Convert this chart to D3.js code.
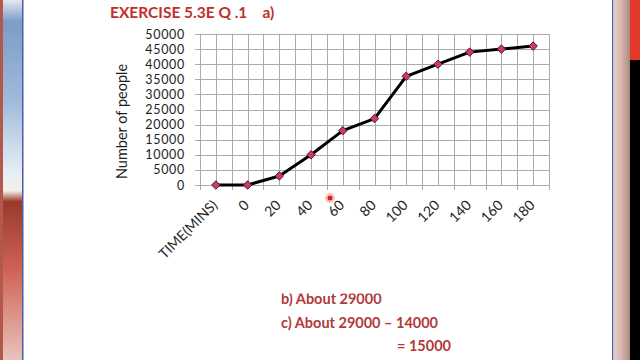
<!DOCTYPE html>
<html>
<head>
<meta charset="utf-8">
<script src="https://cdn.jsdelivr.net/npm/d3@7"></script>
<style>
  html, body { margin: 0; padding: 0; background: #fff; }
  svg { display: block; font-family: Lato, "Open Sans", sans-serif; }
</style>
</head>
<body>
<svg id="chart" width="640" height="360"></svg>
<script>
// chart data
const categories = ['TIME(MINS)', '0', '20', '40', '60', '80', '100', '120', '140', '160', '180'];
const people = [0, 0, 3000, 10000, 18000, 22000, 36000, 40000, 44000, 45000, 46000];
const yTicks = [0, 5000, 10000, 15000, 20000, 25000, 30000, 35000, 40000, 45000, 50000];
const title = 'EXERCISE 5.3E Q .1    a)';
const notes = ['b) About 29000', 'c) About 29000 \u2013 14000', '= 15000'];

(function() {
  'use strict';

  const svg = d3.select('#chart'),
        plot = { left: 200, right: 549, top: 34, bottom: 185 },
        gridColor = '#aaaaaa',
        textColor = '#1e1e1e';

  const x = d3.scaleBand()
    .domain(categories)
    .range([plot.left, plot.right])
    .padding(0);

  const y = d3.scaleLinear()
    .domain([0, 50000])
    .range([plot.bottom, plot.top]);

  const bw = x.bandwidth();

  // slide frame on the sides
  const defs = svg.append('defs');
  const lg = defs.append('linearGradient').attr('id', 'leftStrip')
    .attr('x1', 0).attr('y1', 0).attr('x2', 0).attr('y2', 1);
  [['0', '#e3e9f0'], ['0.06', '#7d9cc6'], ['0.28', '#9fbadb'], ['0.48', '#e8eef5'],
   ['0.53', '#f4efec'], ['0.56', '#9a3a2c'], ['0.75', '#cf6355'], ['1', '#e9c3bd']]
    .forEach(s => lg.append('stop').attr('offset', s[0]).attr('stop-color', s[1]));

  svg.append('rect').attr('x', 0).attr('y', 0).attr('width', 3).attr('height', 360).attr('fill', '#b3594c');
  svg.append('rect').attr('x', 3).attr('y', 0).attr('width', 19).attr('height', 360).attr('fill', 'url(#leftStrip)');
  svg.append('rect').attr('x', 22).attr('y', 0).attr('width', 1.5).attr('height', 360).attr('fill', '#4a5fa8');

  const rg = defs.append('linearGradient').attr('id', 'rightStrip')
    .attr('x1', 0).attr('y1', 0).attr('x2', 1).attr('y2', 0);
  [['0', '#e9cfcc'], ['0.5', '#d8b4ae'], ['1', '#a88a80']]
    .forEach(s => rg.append('stop').attr('offset', s[0]).attr('stop-color', s[1]));

  svg.append('rect').attr('x', 612).attr('y', 0).attr('width', 1.5).attr('height', 360).attr('fill', '#4a5fa8');
  svg.append('rect').attr('x', 613.5).attr('y', 0).attr('width', 16.5).attr('height', 360).attr('fill', 'url(#rightStrip)');
  svg.append('rect').attr('x', 630).attr('y', 0).attr('width', 10).attr('height', 360).attr('fill', '#000');
  svg.append('rect').attr('x', 630).attr('y', 0).attr('width', 10).attr('height', 60).attr('fill', '#e23a2a');

  // title
  svg.append('text')
    .attr('x', 110).attr('y', 18)
    .attr('xml:space', 'preserve')
    .style('white-space', 'pre')
    .attr('font-size', 15.5).attr('font-weight', 'bold')
    .attr('fill', '#c0302a')
    .text(title);

  // horizontal grid lines + left ticks
  const g = svg.append('g');
  g.selectAll('line.hgrid')
    .data(yTicks)
    .enter().append('line')
      .attr('class', 'hgrid')
      .attr('x1', plot.left - 5).attr('x2', plot.right)
      .attr('y1', d => Math.round(y(d)) + 0.5).attr('y2', d => Math.round(y(d)) + 0.5)
      .attr('stroke', gridColor).attr('stroke-width', 1);

  // vertical grid lines at category edges and centres
  const vlines = [];
  categories.forEach(c => { vlines.push({ x: x(c), edge: true }); vlines.push({ x: x(c) + bw / 2, edge: false }); });
  vlines.push({ x: plot.right, edge: true });

  g.selectAll('line.vgrid')
    .data(vlines)
    .enter().append('line')
      .attr('class', 'vgrid')
      .attr('x1', d => Math.round(d.x) + 0.5).attr('x2', d => Math.round(d.x) + 0.5)
      .attr('y1', plot.top).attr('y2', d => d.edge ? plot.bottom + 5 : plot.bottom)
      .attr('stroke', gridColor).attr('stroke-width', 1);

  // y labels
  svg.append('g').selectAll('text')
    .data(yTicks)
    .enter().append('text')
      .attr('x', 185).attr('y', d => y(d) + 4.5)
      .attr('text-anchor', 'end')
      .attr('font-size', 12.5)
      .attr('letter-spacing', 0.7)
      .attr('fill', textColor)
      .text(d => d);

  // y title
  svg.append('text')
    .attr('transform', 'translate(127,' + ((plot.top + plot.bottom) / 2 + 12) + ') rotate(-90)')
    .attr('text-anchor', 'middle')
    .attr('font-size', 14.5)
    .attr('fill', textColor)
    .text('Number of people');

  // x labels
  svg.append('g').selectAll('text')
    .data(categories)
    .enter().append('text')
      .attr('transform', d => 'translate(' + (x(d) + bw / 2 + 2.5) + ',' + (plot.bottom + 21) + ') rotate(-45)')
      .attr('text-anchor', 'end')
      .attr('font-size', 14)
      .attr('fill', textColor)
      .text(d => d);

  // the line
  const line = d3.line()
    .x((d, i) => x(categories[i]) + bw / 2)
    .y(d => y(d));

  svg.append('path')
    .datum(people)
    .attr('d', line)
    .attr('fill', 'none')
    .attr('stroke', '#000')
    .attr('stroke-width', 3)
    .attr('stroke-linejoin', 'round');

  // diamond markers
  svg.append('g').selectAll('path')
    .data(people)
    .enter().append('path')
      .attr('d', d3.symbol().type(d3.symbolDiamond2).size(46))
      .attr('transform', (d, i) => 'translate(' + (x(categories[i]) + bw / 2) + ',' + y(d) + ')')
      .attr('fill', '#c83c68')
      .attr('stroke', '#5a0f25')
      .attr('stroke-width', 1);

  // pointer dot
  svg.append('circle').attr('cx', 330).attr('cy', 198).attr('r', 5).attr('fill', '#f4b0a8').attr('opacity', 0.7);
  svg.append('circle').attr('cx', 330).attr('cy', 198).attr('r', 2.5).attr('fill', '#e02020');

  // notes below the chart
  const notePos = [[281, 304], [281, 328], [397, 351]];
  svg.append('g').selectAll('text')
    .data(notes)
    .enter().append('text')
      .attr('x', (d, i) => notePos[i][0]).attr('y', (d, i) => notePos[i][1])
      .attr('font-size', 14.5).attr('font-weight', 'bold')
      .attr('fill', '#b23a3a')
      .text(d => d);

  // thin white band that cuts the very top of the first note
  svg.append('rect').attr('x', 270).attr('y', 285).attr('width', 140).attr('height', 8.5).attr('fill', '#fff');
})();
</script>
</body>
</html>
